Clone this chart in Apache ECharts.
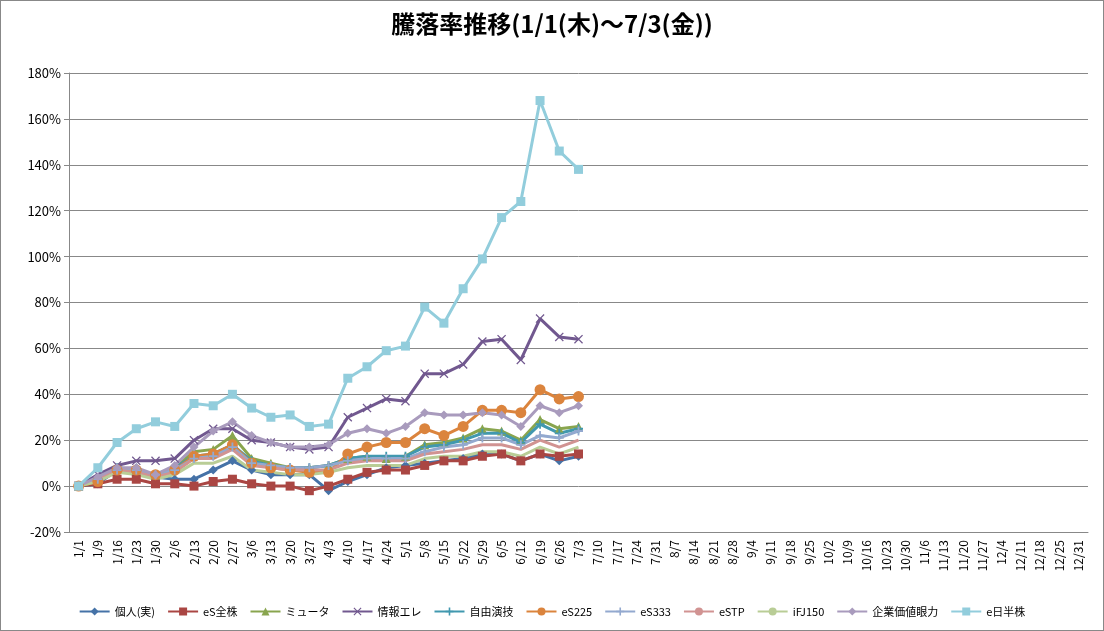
<!DOCTYPE html>
<html><head><meta charset="utf-8">
<script src="https://cdn.jsdelivr.net/npm/echarts@6/dist/echarts.min.js"></script>
<style>html,body{margin:0;background:#fff}#c{width:1102px;height:629px;border:1px solid #888}</style>
</head><body><div id="c"></div>
<script>
var dates = ['1/1'];
(function(){var m=[31,28,31,30,31,30,31,31,30,31,30,31],mo=0,d=9;
  for(var k=0;k<51;k++){dates.push((mo+1)+'/'+d);d+=7;if(d>m[mo]){d-=m[mo];mo++;}}
  dates.push('12/31');})();
var names = ['個人(実)','eS全株','ミュータ','情報エレ','自由演技','eS225','eS333','eSTP','iFJ150','企業価値眼力','e日半株'];
var colors = ['#4572A7','#AA4643','#89A54E','#71588F','#4198AF','#DB843D','#93A9CF','#D19392','#B9CD96','#A99BBD','#92CDDC'];
var symbols = ['diamond','rect','triangle','path://M1,0L5,4L9,0L10,1L6,5L10,9L9,10L5,6L1,10L0,9L4,5L0,1Z','path://M4,0H6V4H10V6H6V10H4V6H0V4H4Z','circle','path://M4,0H6V4H10V6H6V10H4V6H0V4H4Z','none','none','diamond','rect'];
var kojin    = [0,1,7,8,4,3,3,7,11,7,5,5,5,-2,2,5,8,9,10,11,12,14,14,11,14,11,13];
var eszen    = [0,1,3,3,1,1,0,2,3,1,0,0,-2,0,3,6,7,7,9,11,11,13,14,11,14,13,14];
var muta     = [0,3,8,7,5,8,15,16,22,12,10,8,8,9,12,13,12,13,18,19,21,25,24,20,29,25,26];
var joho     = [0,5,9,11,11,12,20,25,25,20,19,17,16,17,30,34,38,37,49,49,53,63,64,55,73,65,64];
var jiyu     = [0,3,8,7,5,8,13,14,18,11,9,8,8,9,12,13,13,13,17,18,20,23,23,19,27,23,25];
var es225    = [0,2,7,7,5,7,13,14,18,10,8,7,6,6,14,17,19,19,25,22,26,33,33,32,42,38,39];
var es333    = [0,3,7,7,5,7,12,13,17,10,9,8,8,9,11,12,12,12,15,17,18,21,21,18,22,21,24];
var estp     = [0,3,7,6,4,6,12,12,16,9,8,7,7,7,10,11,11,11,14,15,16,18,18,16,20,17,20];
var ifj150   = [0,2,6,5,3,5,10,10,13,7,6,5,5,6,8,9,9,9,12,13,13,15,15,13,17,14,17];
var kigyo    = [0,4,8,8,5,9,17,24,28,22,19,17,17,18,23,25,23,26,32,31,31,32,31,26,35,32,35];
var ehan     = [0,8,19,25,28,26,36,35,40,34,30,31,26,27,47,52,59,61,78,71,86,99,117,124,168,146,138];
var data = [kojin,eszen,muta,joho,jiyu,es225,es333,estp,ifj150,kigyo,ehan];
var font = "'Noto Sans CJK JP','Liberation Sans',sans-serif";
var series = names.map(function(n,i){return {
  name:n,type:'line',data:data[i],symbol:symbols[i],symbolSize:i==5?11:9,
  lineStyle:{width:3,color:colors[i]},itemStyle:{color:colors[i]},z:i==10?3:2};});
var chart = echarts.init(document.getElementById('c'));
chart.setOption({
  animation:false,
  textStyle:{fontFamily:font},
  title:{text:'騰落率推移(1/1(木)～7/3(金))',left:'center',top:6,textStyle:{fontSize:24,fontWeight:'bold',color:'#000',fontFamily:font}},
  legend:{bottom:8,left:'center',itemWidth:30,itemHeight:10,itemGap:12,textStyle:{fontSize:11,color:'#000'},data:names},
  grid:{left:68,right:15,top:72,bottom:98},
  xAxis:{type:'category',data:dates,boundaryGap:true,
    axisLine:{onZero:false,lineStyle:{color:'#888'}},axisTick:{interval:0,length:6,lineStyle:{color:'#888'}},
    axisLabel:{interval:0,rotate:90,fontSize:12,color:'#000',margin:8}},
  yAxis:{type:'value',min:-20,max:180,interval:20,
    axisLabel:{formatter:'{value}%',fontSize:13,color:'#000'},
    axisLine:{show:true,lineStyle:{color:'#888'}},axisTick:{show:true,lineStyle:{color:'#888'}},
    splitLine:{lineStyle:{color:'#888',width:1}}},
  series:series
});
</script></body></html>
